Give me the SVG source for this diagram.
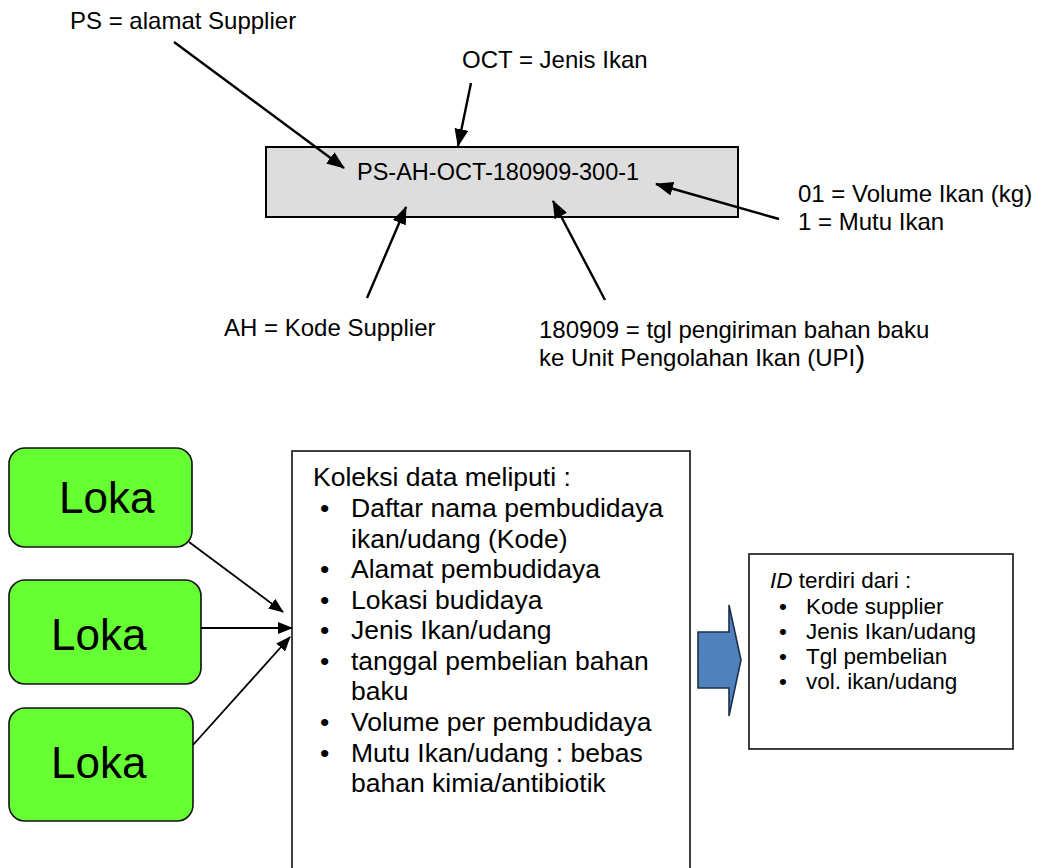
<svg xmlns="http://www.w3.org/2000/svg" width="1042" height="868" viewBox="0 0 1042 868">
  <style>
    text { font-family: "Liberation Sans", Arial, sans-serif; fill: #000; }
    .lbl { font-size: 24px; }
    .code { font-size: 23.5px; }
    .loka { font-size: 44px; }
    .coll { font-size: 26.5px; }
    .idt { font-size: 22.5px; }
    .ln { stroke: #000; stroke-width: 2.4; fill: none; }
    .ln2 { stroke: #000; stroke-width: 1.8; fill: none; }
    .green { fill: #66ff33; stroke: #111; stroke-width: 1.6; }
    .box { fill: #fff; stroke: #111; stroke-width: 1.6; }
  </style>
  <defs>
    <marker id="headBig" markerUnits="userSpaceOnUse" markerWidth="18" markerHeight="14" refX="17" refY="7" orient="auto">
      <path d="M0,0 L18,7 L0,14 z" fill="#000"/>
    </marker>
    <marker id="headSmall" markerUnits="userSpaceOnUse" markerWidth="15" markerHeight="12" refX="14" refY="6" orient="auto">
      <path d="M0,0 L15,6 L0,12 z" fill="#000"/>
    </marker>
  </defs>

  <!-- ID code box -->
  <g id="code-box">
    <rect x="266" y="147" width="472" height="70" fill="#dddddd" stroke="#000" stroke-width="2"/>
    <text class="code" x="357" y="180">PS-AH-OCT-180909-300-1</text>
  </g>

  <!-- annotations -->
  <g id="label-ps">
    <text class="lbl" x="70" y="29">PS = alamat Supplier</text>
  </g>
  <g id="label-oct">
    <text class="lbl" x="462" y="68">OCT = Jenis Ikan</text>
  </g>
  <g id="label-vol">
    <text class="lbl" x="798" y="202">01 = Volume Ikan (kg)</text>
    <text class="lbl" x="798" y="230">1 = Mutu Ikan</text>
  </g>
  <g id="label-ah">
    <text class="lbl" x="224" y="336">AH = Kode Supplier</text>
  </g>
  <g id="label-date">
    <text class="lbl" x="539" y="338">180909 = tgl pengiriman bahan baku</text>
    <text class="lbl" x="539" y="366">ke Unit Pengolahan Ikan (UPI<tspan font-size="30" dy="1">)</tspan></text>
  </g>

  <!-- source nodes -->
  <g id="loka-1">
    <rect class="green" x="9" y="448" width="183" height="99" rx="16" ry="16"/>
    <text class="loka" x="59" y="513">Loka</text>
  </g>
  <g id="loka-2">
    <rect class="green" x="9" y="580" width="192" height="104" rx="16" ry="16"/>
    <text class="loka" x="51" y="650">Loka</text>
  </g>
  <g id="loka-3">
    <rect class="green" x="9" y="708" width="184" height="113" rx="16" ry="16"/>
    <text class="loka" x="51" y="778">Loka</text>
  </g>

  <!-- data collection box -->
  <g id="collection">
    <rect class="box" x="292" y="451" width="398" height="440"/>
    <text class="coll" x="313" y="486">Koleksi data meliputi :</text>
    <g>
      <text class="coll" x="320" y="517">•</text>
      <text class="coll" x="351" y="517">Daftar nama pembudidaya</text>
      <text class="coll" x="351" y="548">ikan/udang (Kode)</text>
      <text class="coll" x="320" y="578">•</text>
      <text class="coll" x="351" y="578">Alamat pembudidaya</text>
      <text class="coll" x="320" y="609">•</text>
      <text class="coll" x="351" y="609">Lokasi budidaya</text>
      <text class="coll" x="320" y="639">•</text>
      <text class="coll" x="351" y="639">Jenis Ikan/udang</text>
      <text class="coll" x="320" y="670">•</text>
      <text class="coll" x="351" y="670">tanggal pembelian bahan</text>
      <text class="coll" x="351" y="700">baku</text>
      <text class="coll" x="320" y="731">•</text>
      <text class="coll" x="351" y="731">Volume per pembudidaya</text>
      <text class="coll" x="320" y="762">•</text>
      <text class="coll" x="351" y="762">Mutu Ikan/udang : bebas</text>
      <text class="coll" x="351" y="792">bahan kimia/antibiotik</text>
    </g>
  </g>

  <!-- block arrow -->
  <g id="block-arrow">
    <path d="M698,632 L729,632 L729,605 L741,660 L729,716 L729,688 L698,688 Z" fill="#4f81bd" stroke="#1c2f4a" stroke-width="1.6" stroke-linejoin="miter"/>
  </g>

  <!-- ID summary box -->
  <g id="id-summary">
    <rect class="box" x="749" y="554" width="264" height="195"/>
    <text class="idt" x="770" y="588"><tspan font-style="italic">ID</tspan> terdiri dari :</text>
    <text class="idt" x="779" y="614">•</text>
    <text class="idt" x="806" y="614">Kode supplier</text>
    <text class="idt" x="779" y="639">•</text>
    <text class="idt" x="806" y="639">Jenis Ikan/udang</text>
    <text class="idt" x="779" y="664">•</text>
    <text class="idt" x="806" y="664">Tgl pembelian</text>
    <text class="idt" x="779" y="689">•</text>
    <text class="idt" x="806" y="689">vol. ikan/udang</text>
  </g>

  <!-- connectors -->
  <g id="connectors">
    <line class="ln" x1="174" y1="42" x2="344" y2="168" marker-end="url(#headBig)"/>
    <line class="ln" x1="471" y1="83" x2="458" y2="146" marker-end="url(#headBig)"/>
    <line class="ln" x1="779" y1="219" x2="656" y2="184" marker-end="url(#headBig)"/>
    <line class="ln" x1="367" y1="298" x2="406" y2="207" marker-end="url(#headBig)"/>
    <line class="ln" x1="605" y1="300" x2="553" y2="201" marker-end="url(#headBig)"/>
    <line class="ln2" x1="189" y1="542" x2="283" y2="612" marker-end="url(#headSmall)"/>
    <line class="ln2" x1="201" y1="628" x2="292" y2="628" marker-end="url(#headSmall)"/>
    <line class="ln2" x1="193" y1="745" x2="290" y2="637" marker-end="url(#headSmall)"/>
  </g>
</svg>
